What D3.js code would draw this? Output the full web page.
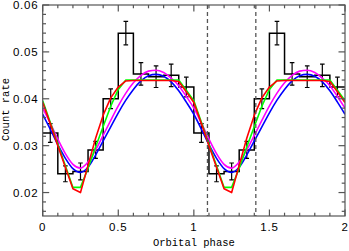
<!DOCTYPE html>
<html><head><meta charset="utf-8">
<script src="https://cdn.jsdelivr.net/npm/d3@7"></script>
<style>html,body{margin:0;padding:0;background:#fff;}svg{display:block;}</style>
</head><body>
<script>
// ---- data ----
const binCenters = [0.05,0.15,0.25,0.35,0.45,0.55,0.65,0.75,0.85,0.95];
const binValues  = [0.0327,0.0240,0.0245,0.0291,0.0400,0.0540,0.0453,0.0447,0.0450,0.0425];
const binErrors  = [0.0020,0.0017,0.0018,0.0018,0.0021,0.0025,0.0024,0.0023,0.0024,0.0021];
const modelPhase = [0,0.05,0.10,0.15,0.20,0.25,0.30,0.35,0.40,0.45,0.50,0.55,0.60,0.65,0.70,0.75,0.80,0.85,0.90,0.95,1.00];
const blueModel    = [0.0367,0.0335,0.0302,0.0273,0.0251,0.0243,0.0254,0.0280,0.0310,0.0340,0.0370,0.0397,0.0420,0.0438,0.0449,0.0452,0.0448,0.0436,0.0417,0.0393,0.0367];
const magentaModel = [0.0380,0.0348,0.0314,0.0283,0.0260,0.0252,0.0265,0.0291,0.0322,0.0354,0.0385,0.0412,0.0434,0.0450,0.0459,0.0461,0.0456,0.0444,0.0428,0.0405,0.0380];
const greenModel   = [0.0396,0.0350,0.0303,0.0257,0.0211,0.0211,0.0252,0.0297,0.0341,0.0384,0.0420,0.0440,0.0440,0.0440,0.0440,0.0440,0.0440,0.0440,0.0440,0.0418,0.0396];
const redModel     = [0.0392,0.0347,0.0300,0.0254,0.0208,0.0200,0.0258,0.0316,0.0365,0.0402,0.0425,0.0438,0.0439,0.0439,0.0439,0.0439,0.0439,0.0439,0.0437,0.0415,0.0392];
const cycles = [0, 1];
const dashedPhases = [1.09, 1.41];
const xTicks = [0, 0.5, 1, 1.5, 2];
const xTickLabels = ["0", "0.5", "1", "1.5", "2"];
const yTicks = [0.02, 0.03, 0.04, 0.05, 0.06];
const yTickLabels = ["0.02", "0.03", "0.04", "0.05", "0.06"];

// ---- layout ----
const W = 349, H = 251;
const L = 42.7, R = 345, T = 5, B = 216;
const svg = d3.select("body").append("svg").attr("width", W).attr("height", H);
const x = d3.scaleLinear().domain([0, 2]).range([L, R]);
const y = d3.scaleLinear().domain([0.015, 0.06]).range([B, T]);

svg.append("clipPath").attr("id", "clip").append("rect")
  .attr("x", L).attr("y", T).attr("width", R - L).attr("height", B - T);
const plot = svg.append("g").attr("clip-path", "url(#clip)");

// histogram (step) over two cycles
const stepPts = [];
cycles.forEach(c => binCenters.forEach((bc, i) => {
  stepPts.push([c + bc - 0.05, binValues[i]]);
  stepPts.push([c + bc + 0.05, binValues[i]]);
}));
plot.append("path").datum(stepPts)
  .attr("d", d3.line().x(d => x(d[0])).y(d => y(d[1])))
  .attr("fill", "none").attr("stroke", "#000").attr("stroke-width", 1.5);

// error bars
const eb = plot.append("g").attr("stroke", "#000").attr("stroke-width", 1.2);
cycles.forEach(c => binCenters.forEach((bc, i) => {
  const cx = x(c + bc), y1 = y(binValues[i] + binErrors[i]), y2 = y(binValues[i] - binErrors[i]);
  eb.append("line").attr("x1", cx).attr("x2", cx).attr("y1", y1).attr("y2", y2);
  eb.append("line").attr("x1", cx - 2.3).attr("x2", cx + 2.3).attr("y1", y1).attr("y2", y1);
  eb.append("line").attr("x1", cx - 2.3).attr("x2", cx + 2.3).attr("y1", y2).attr("y2", y2);
}));

// model curves
function series(vals) {
  const pts = [];
  cycles.forEach(c => modelPhase.forEach((p, i) => {
    if (c > 0 && i === 0) return;
    pts.push([c + p, vals[i]]);
  }));
  return pts;
}
const models = [
  {v: blueModel, color: "#0000ff", curve: d3.curveMonotoneX},
  {v: magentaModel, color: "#ff00ff", curve: d3.curveMonotoneX},
  {v: greenModel, color: "#00ff00", curve: d3.curveLinear},
  {v: redModel, color: "#ff0000", curve: d3.curveLinear}
];
models.forEach(m => {
  plot.append("path").datum(series(m.v))
    .attr("d", d3.line().x(d => x(d[0])).y(d => y(d[1])).curve(m.curve))
    .attr("fill", "none").attr("stroke", m.color).attr("stroke-width", 1.6)
    .attr("stroke-linejoin", "round");
});

// dashed lines
dashedPhases.forEach(p => {
  svg.append("line").attr("x1", x(p)).attr("x2", x(p)).attr("y1", T).attr("y2", B)
    .attr("stroke", "#555").attr("stroke-width", 1.3).attr("stroke-dasharray", "4,3");
});

// axes frame + ticks (inward, mirrored)
const axColor = "#555";
const ax = svg.append("g").attr("stroke", axColor).attr("stroke-width", 1.2);
ax.append("rect").attr("x", L).attr("y", T).attr("width", R - L).attr("height", B - T).attr("fill", "none");
d3.range(0, 21).forEach(k => {
  const v = k / 10, px = x(v);
  const len = (k % 5 === 0) ? 6.5 : 3.3;
  ax.append("line").attr("x1", px).attr("x2", px).attr("y1", B).attr("y2", B - len);
  ax.append("line").attr("x1", px).attr("x2", px).attr("y1", T).attr("y2", T + len);
});
d3.range(8, 31).forEach(k => {
  const v = k * 0.002, py = y(v);
  const len = (k % 5 === 0) ? 6.5 : 3.3;
  ax.append("line").attr("x1", L).attr("x2", L + len).attr("y1", py).attr("y2", py);
  ax.append("line").attr("x1", R).attr("x2", R - len).attr("y1", py).attr("y2", py);
});

// tick labels
const tickFont = "'Liberation Sans', Arial, sans-serif";
xTicks.forEach((v, i) => {
  svg.append("text").attr("x", x(v)).attr("y", 230.5).attr("text-anchor", "middle")
    .attr("font-family", tickFont).attr("font-size", 11.5).attr("letter-spacing", 0.8)
    .attr("fill", "#000").text(xTickLabels[i]);
});
yTicks.forEach((v, i) => {
  svg.append("text").attr("x", 38.5).attr("y", y(v) + 4).attr("text-anchor", "end")
    .attr("font-family", tickFont).attr("font-size", 11.5).attr("letter-spacing", 0.8)
    .attr("fill", "#000").text(yTickLabels[i]);
});

// axis titles
const titleFont = "'Liberation Mono', 'DejaVu Sans Mono', monospace";
svg.append("text").attr("x", (L + R) / 2).attr("y", 246).attr("text-anchor", "middle")
  .attr("font-family", titleFont).attr("font-size", 10.5).attr("fill", "#000").text("Orbital phase");
svg.append("text").attr("transform", `translate(9,${(T + B) / 2 - 1}) rotate(-90)`)
  .attr("text-anchor", "middle")
  .attr("font-family", titleFont).attr("font-size", 10.5).attr("fill", "#000").text("Count rate");
</script>
</body></html>
